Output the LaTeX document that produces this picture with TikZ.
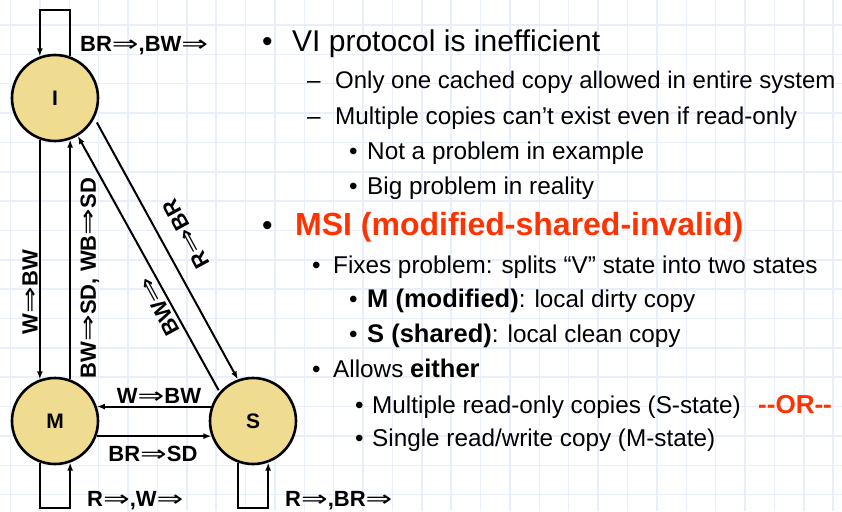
\documentclass[tikz,border=0pt]{standalone}
\usepackage{fontspec}
\setmainfont{Liberation Sans}
\newfontfamily\arrfont{DejaVu Sans}
\usetikzlibrary{arrows.meta, positioning, calc}
\definecolor{stfill}{RGB}{240, 220, 145}
\definecolor{msired}{RGB}{255, 51, 0}
\definecolor{gridblue}{RGB}{232, 238, 252}
\newcommand{\ra}{{\arrfont\mdseries\scalebox{1.45}[1]{⇒}}}
\newcommand{\bd}[1]{{\fontsize{25.5}{29}\selectfont\bfseries #1}}

\begin{document}
\begin{tikzpicture}[x=1pt, y=-1pt,
    gridline/.style={draw=gridblue, line width=1.5pt},
    st/.style={circle, draw, line width=2.6pt, fill=stfill, minimum size=86pt, inner sep=0pt, font=\fontsize{21}{24}\selectfont\bfseries},
    tr/.style={line width=2pt, -{Latex[length=8pt, width=6pt]}},
    lbl/.style={font=\fontsize{22}{26}\selectfont\bfseries, inner sep=0pt},
    big/.style={font=\fontsize{30}{36}\selectfont, anchor=base west, inner sep=0pt},
    txt/.style={font=\fontsize{24.3}{29}\selectfont, anchor=base west, inner sep=0pt},
    hot/.style={text=msired, font=\fontsize{32}{38}\selectfont\bfseries}
  ]
    \useasboundingbox (0,0) rectangle (842,511);
    % background grid
    \foreach \gx in {0,...,28}
      \draw[gridline] ({10.5+29.38*\gx},0) -- ++(0,511);
    \foreach \gy in {0,...,16}
      \draw[gridline] (0,{25+29.35*\gy}) -- ++(842,0);

    % states
    \node[st] (I) at (55,98) {I};
    \node[st] (M) at (55,421) {M};
    \node[st] (S) at (253,421) {S};

    % self loops
    \coordinate (Iloop) at (55,10);
    \coordinate (Mloop) at (55,508);
    \coordinate (Sloop) at (253,508);
    \draw[tr] (I.70) |- (Iloop) -| (I.110);
    \draw[tr] (M.250) |- (Mloop) -| (M.290);
    \draw[tr] (S.250) |- (Sloop) -| (S.290);
    \node[lbl, anchor=base west] (lI) at (80,52) {BR\ra,BW\ra};
    \node[lbl, anchor=base west] (lM) at (87,506) {R\ra,W\ra};
    \node[lbl, anchor=base west] (lS) at (285,506) {R\ra,BR\ra};

    % I <-> M
    \draw[tr] (I.250) -- (M.110);
    \draw[tr] (M.70) -- (I.290);
    \node[lbl, rotate=90] (lIM) at (30,292) {W\ra BW};
    \node[lbl, rotate=90] (lMI) at (90,278) {BW\ra SD, WB\ra SD};

    % I <-> S
    \draw[tr, shorten <=5pt] (I.-27) -- (S.110);
    \draw[tr, shorten <=2pt] (S.139) -- (I.-59);
    \node[lbl, rotate=118.5] (lIS) at (186,234) {R\ra BR};
    \node[lbl, rotate=118.5] (lSI) at (159,306) {BW\ra};

    % M <-> S
    \draw[tr] (S.161) -- (M.19);
    \draw[tr] (M.-20) -- (S.200);
    \node[lbl, anchor=base] (lSM) at (159,403) {W\ra BW};
    \node[lbl, anchor=base] (lMS) at (153,461) {BR\ra SD};

    % VI
    \node[big] (b1) at (262,52) {•};
    \node[big] (t1) at (292,52) {VI protocol is inefficient};
    \node[txt] (d1) at (307,88) {–};
    \node[txt, font=\fontsize{24}{29}\selectfont] (t2) at (335,88) {Only one cached copy allowed in entire system};
    \node[txt] (d2) at (307,124) {–};
    \node[txt] (t3) at (335,124) {Multiple copies can’t exist even if read-only};
    \node[txt] (b2) at (349,159) {•};
    \node[txt] (t4) at (367,159) {Not a problem in example};
    \node[txt] (b3) at (349,194) {•};
    \node[txt] (t5) at (367,194) {Big problem in reality};

    % MSI
    \node[big] (b4) at (262,235) {•};
    \node[big, hot] (t6) at (295,235) {MSI (modified-shared-invalid)};
    \node[txt] (b5) at (312,273) {•};
    \node[txt] (t7) at (333,273) {Fixes problem: splits “V” state into two states};
    \node[txt] (b6) at (349,307) {•};
    \node[txt] (t8) at (367,307) {\bd{M (modified)}: local dirty copy};
    \node[txt] (b7) at (349,342) {•};
    \node[txt] (t9) at (367,342) {\bd{S (shared)}: local clean copy};
    \node[txt] (b8) at (312,377) {•};
    \node[txt] (t10) at (333,377) {Allows \bd{either}};
    \node[txt] (b9) at (355,413) {•};
    \node[txt] (t11) at (372,413) {Multiple read-only copies (S-state)};
    \node[txt, text=msired, font=\fontsize{26}{29}\selectfont\bfseries] (t12) at (758,413) {-{}-OR-{}-};
    \node[txt] (b10) at (355,446) {•};
    \node[txt] (t13) at (372,446) {Single read/write copy (M-state)};
  \end{tikzpicture}
\end{document}
